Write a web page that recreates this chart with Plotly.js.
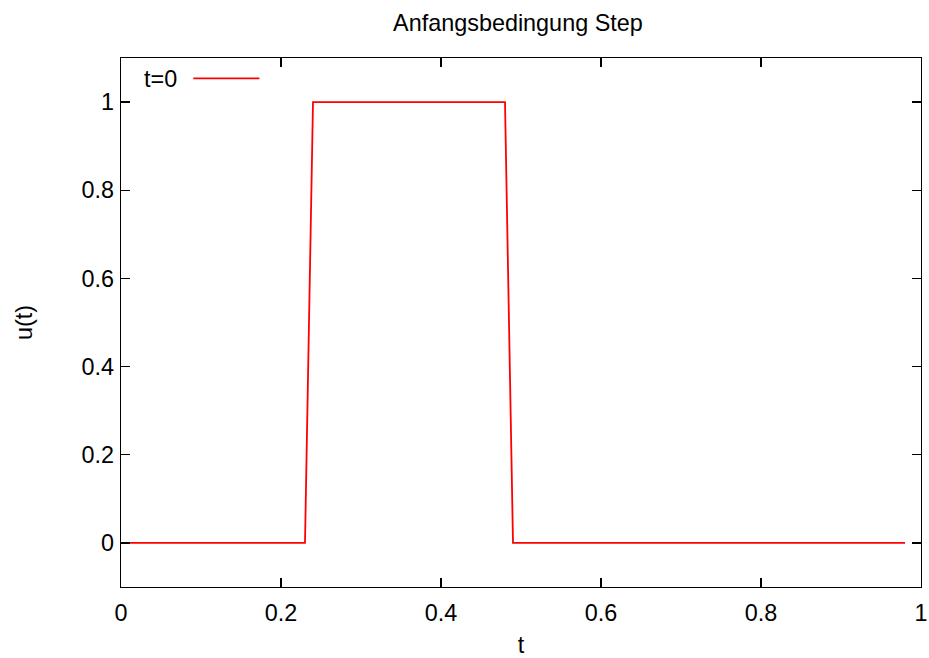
<!DOCTYPE html>
<html>
<head>
<meta charset="utf-8">
<script src="https://cdn.plot.ly/plotly-3.0.1.min.js"></script>
<style>html,body{margin:0;padding:0;background:#fff;}#chart{width:929px;height:658px;}</style>
</head>
<body>
<div id="chart"></div>
<script>
const tValues = [0, 0.23, 0.24, 0.48, 0.49, 0.98];
const uValues = [0, 0, 1, 1, 0, 0];
const tickVals = [0, 0.2, 0.4, 0.6, 0.8, 1];
const tickText = ["0", "0.2", "0.4", "0.6", "0.8", "1"];
const seriesName = "t=0";

const font = {family: "Liberation Sans, Arial, sans-serif", size: 23.4, color: "#000"};

const trace = {
  x: tValues, y: uValues, type: "scatter", mode: "lines",
  name: seriesName, showlegend: false,
  line: {color: "#ff0000", width: 1.8}
};

const axisCommon = {
  showgrid: false, zeroline: false, showline: true, linecolor: "#000", linewidth: 1.2,
  mirror: "allticks", ticks: "inside", ticklen: 9, tickwidth: 1.2, tickcolor: "#000",
  tickvals: tickVals, ticktext: tickText, tickfont: font
};

const layout = {
  width: 929, height: 658,
  margin: {l: 121, r: 8, t: 58, b: 71},
  paper_bgcolor: "#fff", plot_bgcolor: "#fff",
  font: font,
  title: {text: "Anfangsbedingung Step", font: font, x: 0.5575, xanchor: "center", y: 0.965, yanchor: "middle"},
  xaxis: Object.assign({}, axisCommon, {range: [0, 1], ticklabelstandoff: 5, title: {text: "t", font: font, standoff: 17}}),
  yaxis: Object.assign({}, axisCommon, {range: [-0.1, 1.1], ticklabelstandoff: 1, title: {text: "u(t)", font: font, standoff: 42}}),
  showlegend: false,
  annotations: [{
    xref: "paper", yref: "paper", x: 0.072, y: 0.961, xanchor: "right", yanchor: "middle",
    text: seriesName, showarrow: false, font: font
  }],
  shapes: [{
    type: "line", xref: "paper", yref: "paper", x0: 0.0904, x1: 0.173, y0: 0.9616, y1: 0.9616,
    line: {color: "#ff0000", width: 1.8}
  }]
};

Plotly.newPlot("chart", [trace], layout, {displayModeBar: false, staticPlot: true});
</script>
</body>
</html>
